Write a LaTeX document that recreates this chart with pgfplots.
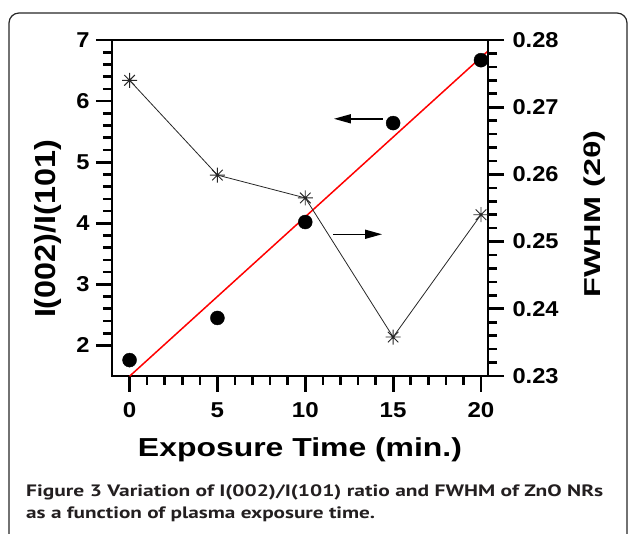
\documentclass[border=0pt]{standalone}
\usepackage{pgfplots}
\pgfplotsset{compat=1.18}
\usepackage{fontspec}
\setmainfont{Liberation Sans}
\newfontfamily\capfont{PT Sans}
\usetikzlibrary{arrows.meta}
\definecolor{captxt}{HTML}{231F20}

% eight-arm asterisk as used by Origin
\pgfdeclareplotmark{ast8}{%
  \pgfpathmoveto{\pgfqpoint{-\pgfplotmarksize}{0pt}}\pgfpathlineto{\pgfqpoint{\pgfplotmarksize}{0pt}}%
  \pgfpathmoveto{\pgfqpoint{0pt}{-\pgfplotmarksize}}\pgfpathlineto{\pgfqpoint{0pt}{\pgfplotmarksize}}%
  \pgfpathmoveto{\pgfqpoint{-0.707\pgfplotmarksize}{-0.707\pgfplotmarksize}}\pgfpathlineto{\pgfqpoint{0.707\pgfplotmarksize}{0.707\pgfplotmarksize}}%
  \pgfpathmoveto{\pgfqpoint{-0.707\pgfplotmarksize}{0.707\pgfplotmarksize}}\pgfpathlineto{\pgfqpoint{0.707\pgfplotmarksize}{-0.707\pgfplotmarksize}}%
  \pgfusepathqstroke}

\newcommand{\tickfont}{\fontsize{21.5}{24}\selectfont\bfseries}
\newcommand{\labfont}{\fontsize{26}{30}\selectfont\bfseries}

\begin{document}
\begin{tikzpicture}
\useasboundingbox (0,0) rectangle (629pt,534pt);
\draw[rounded corners=10pt, line width=1.2pt, black!85] (9pt,-30pt) rectangle (627pt,521pt);

\pgfplotsset{
  base/.style={
    at={(112pt,158pt)}, anchor=south west,
    scale only axis, width=376pt, height=336pt,
    xmin=-1, xmax=20.4,
    tick align=outside,
    major tick length=16pt, minor tick length=9pt,
    axis line style={line width=2.8pt},
    every tick/.append style={line width=2.8pt, black},
    every minor tick/.append style={line width=2.6pt, black},
    /pgf/number format/assume math mode=true,
    tick label style={font=\tickfont},
  }
}

\begin{axis}[base,
  ymin=1.5, ymax=7,
  xtick={0,5,10,15,20}, minor x tick num=4,
  ytick={2,3,4,5,6,7}, minor y tick num=4,
  xtick pos=bottom, ytick pos=left,
  xticklabel={\scalebox{1.12}[1]{\pgfmathprintnumber{\tick}}},
  yticklabel={\scalebox{1.1}[1]{\pgfmathprintnumber{\tick}}},
  xticklabel style={yshift=-7pt},
  yticklabel style={xshift=-3pt},
  xlabel={\resizebox{324pt}{\height}{Exposure Time (min.)}},
  xlabel style={font=\labfont, at={(axis description cs:0.5,-0.241)}, anchor=base},
  ylabel={\resizebox{178pt}{\height}{I(002)/I(101)}},
  ylabel style={font=\fontsize{29}{32}\selectfont\bfseries, at={(axis description cs:-0.170,0.4375)}, anchor=center, rotate=0},
  clip=false,
]
\addplot[red, line width=1.5pt] coordinates {(0,1.496) (20.4,6.82)};
\addplot[only marks, mark=*, mark size=7pt, black] coordinates {
  (0,1.76) (5,2.45) (10,4.02) (15,5.64) (20,6.67)
};
\draw[line width=1.5pt, -{Triangle[length=17pt,width=9pt]}] (axis cs:14.42,5.71) -- (axis cs:11.63,5.71);
\draw[line width=1.5pt, -{Triangle[length=17pt,width=9pt]}] (axis cs:11.58,3.82) -- (axis cs:14.37,3.82);
\end{axis}

\begin{axis}[base,
  axis x line=none, axis y line*=right,
  ymin=0.23, ymax=0.28,
  ytick={0.23,0.24,0.25,0.26,0.27,0.28}, minor y tick num=4,
  scaled y ticks=false,
  yticklabel={\scalebox{1.1}[1]{\pgfmathprintnumber[fixed,fixed zerofill,precision=2]{\tick}}},
  yticklabel style={xshift=5pt},
  ylabel={\resizebox{167pt}{\height}{FWHM (2θ)}},
  ylabel style={font=\fontsize{23}{26}\selectfont\bfseries, at={(axis description cs:1.2846,0.482)}, anchor=center, rotate=0},
]
\addplot[black!85, line width=0.8pt, mark=ast8, mark size=7.5pt, mark options={line width=0.9pt}] coordinates {
  (0,0.2740) (5,0.2599) (10,0.2565) (15,0.2358) (20,0.2540)
};
\end{axis}

\node[anchor=base west, inner sep=0pt, text=captxt, font=\capfont\fontsize{16.5}{19}\selectfont\bfseries] at (26pt,37pt)
  {\resizebox{577pt}{\height}{Figure 3 Variation of I(002)/I(101) ratio and FWHM of ZnO NRs}};
\node[anchor=base west, inner sep=0pt, text=captxt, font=\capfont\fontsize{16.5}{19}\selectfont\bfseries] at (26pt,15pt)
  {\resizebox{349pt}{\height}{as a function of plasma exposure time.}};
\end{tikzpicture}
\end{document}
